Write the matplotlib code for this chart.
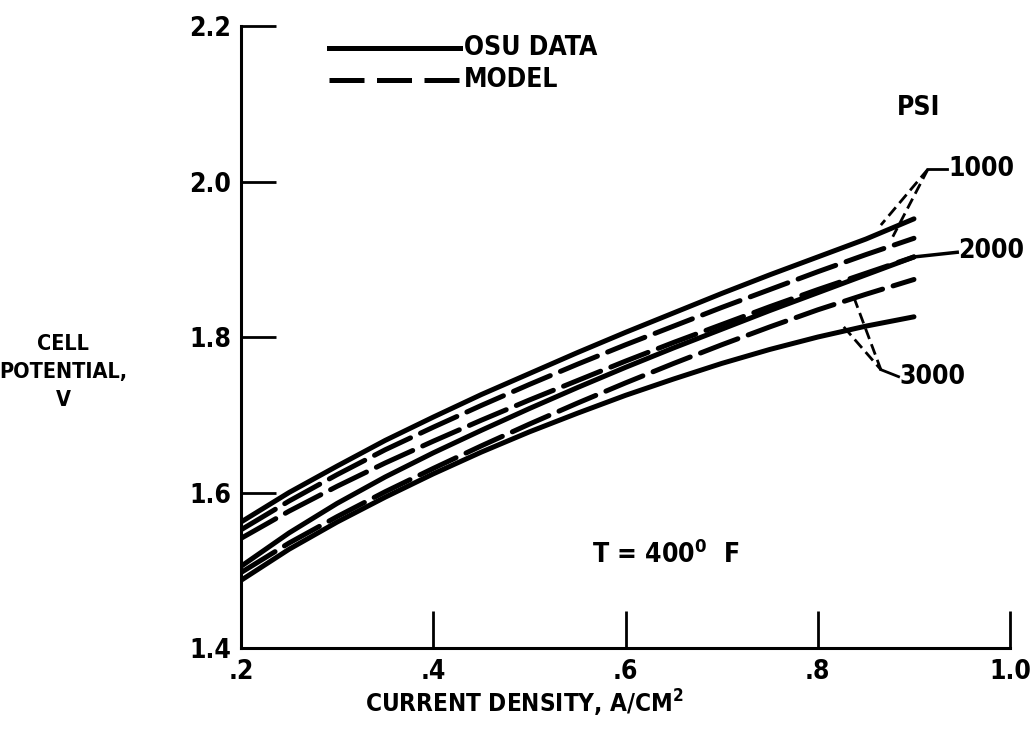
import matplotlib
matplotlib.use('Agg')
import matplotlib.pyplot as plt
import numpy as np

plt.rcParams['font.family'] = ['DejaVu Sans Condensed', 'DejaVu Sans']
plt.rcParams['font.stretch'] = 'condensed'
plt.rcParams['font.weight'] = 'bold'
plt.rcParams['axes.labelweight'] = 'bold'

# current density, A/cm2
x_pts = [0.2, 0.25, 0.3, 0.35, 0.4, 0.45, 0.5, 0.55, 0.6, 0.65, 0.7, 0.75, 0.8, 0.85, 0.9]

# OSU data (solid)
data_1000 = [1.562, 1.600, 1.634, 1.667, 1.697, 1.726, 1.753, 1.780, 1.806, 1.831, 1.856,
             1.880, 1.903, 1.926, 1.952]
data_2000 = [1.505, 1.548, 1.586, 1.620, 1.651, 1.680, 1.708, 1.735, 1.761, 1.786, 1.810,
             1.834, 1.857, 1.880, 1.903]
data_3000 = [1.487, 1.527, 1.562, 1.594, 1.624, 1.652, 1.678, 1.702, 1.725, 1.746, 1.766,
             1.784, 1.800, 1.814, 1.826]

# model (dashed)
model_1000 = [1.552, 1.589, 1.623, 1.655, 1.684, 1.712, 1.739, 1.765, 1.790, 1.814, 1.838,
              1.861, 1.884, 1.906, 1.927]
model_2000 = [1.541, 1.576, 1.608, 1.638, 1.666, 1.693, 1.719, 1.744, 1.769, 1.793, 1.816,
              1.839, 1.861, 1.882, 1.903]
model_3000 = [1.497, 1.535, 1.569, 1.601, 1.631, 1.660, 1.688, 1.715, 1.741, 1.766, 1.790,
              1.813, 1.835, 1.855, 1.874]

x_ticks = [0.2, 0.4, 0.6, 0.8, 1.0]
x_ticklabels = ['.2', '.4', '.6', '.8', '1.0']
y_ticks = [1.4, 1.6, 1.8, 2.0, 2.2]
y_ticklabels = ['1.4', '1.6', '1.8', '2.0', '2.2']

fig = plt.figure(figsize=(10.36, 7.29), dpi=100)
ax = fig.add_axes([0.2326, 0.1111, 0.7424, 0.8532])

lw = 3.6
dash = (8, 2.2)
for ys in [data_1000, data_2000, data_3000]:
    ax.plot(x_pts, ys, color='black', lw=lw, solid_capstyle='round', solid_joinstyle='round')
for ys in [model_1000, model_2000, model_3000]:
    ax.plot(x_pts, ys, color='black', lw=lw, linestyle=(0, dash), dash_capstyle='round')

ax.set_xlim(0.2, 1.0)
ax.set_ylim(1.4, 2.2)
ax.set_xticks(x_ticks)
ax.set_xticklabels(x_ticklabels)
ax.set_yticks(y_ticks)
ax.set_yticklabels(y_ticklabels)
ax.tick_params(axis='x', direction='in', length=27, width=2, labelsize=19, pad=8)
ax.tick_params(axis='y', direction='in', length=25, width=2, labelsize=19, pad=7)
for s in ['top', 'right']:
    ax.spines[s].set_visible(False)
for s in ['left', 'bottom']:
    ax.spines[s].set_linewidth(2.2)

ax.set_xlabel('CURRENT DENSITY, A/CM$^2$', fontsize=17.5)
ax.xaxis.set_label_coords(0.368, -0.064)
fig.text(0.061, 0.49, 'CELL\nPOTENTIAL,\nV', fontsize=15.5, ha='center', va='center',
         linespacing=1.5)

# legend drawn by hand
ax.plot([0.292, 0.428], [2.172, 2.172], color='black', lw=lw, clip_on=False)
ax.text(0.432, 2.172, 'OSU DATA', fontsize=19, va='center')
ax.plot([0.292, 0.428], [2.131, 2.131], color='black', lw=lw, linestyle=(0, (7, 2.5)),
        clip_on=False)
ax.text(0.432, 2.131, 'MODEL', fontsize=19, va='center')

# pressure labels
ax.text(0.905, 2.094, 'PSI', fontsize=19, ha='center', va='center')
ax.text(0.936, 2.016, '1000', fontsize=19, va='center')
ax.plot([0.934, 0.9146], [2.016, 2.016], color='black', lw=2)
ax.plot([0.9146, 0.8656], [2.016, 1.944], color='black', lw=2, linestyle=(0, (4, 2)))
ax.plot([0.9146, 0.878], [2.016, 1.929], color='black', lw=2, linestyle=(0, (4, 2)))

ax.text(0.946, 1.910, '2000', fontsize=19, va='center')
ax.plot([0.9, 0.945], [1.903, 1.909], color='black', lw=2.5, clip_on=False)

ax.text(0.885, 1.748, '3000', fontsize=19, va='center')
ax.plot([0.8375, 0.8656], [1.851, 1.758], color='black', lw=2, linestyle=(0, (4, 2)))
ax.plot([0.827, 0.8656], [1.813, 1.758], color='black', lw=2, linestyle=(0, (4, 2)))
ax.plot([0.8656, 0.884], [1.758, 1.749], color='black', lw=2)

ax.text(0.565, 1.52, 'T = 400$^0$  F', fontsize=19, va='center')

fig.savefig('out.png', dpi=100)
